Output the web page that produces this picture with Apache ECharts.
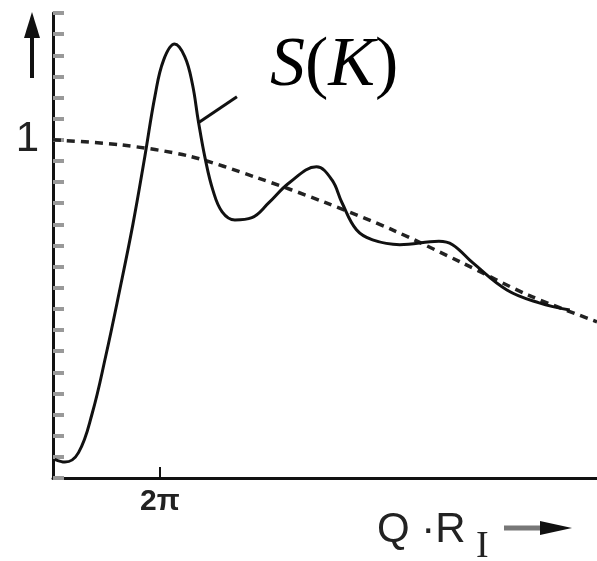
<!DOCTYPE html>
<html>
<head>
<meta charset="utf-8">
<script src="https://cdn.jsdelivr.net/npm/echarts@6/dist/echarts.min.js"></script>
<style>
  html, body { margin: 0; padding: 0; background: #fff; }
  #chart { width: 597px; height: 561px; }
</style>
</head>
<body>
<div id="chart"></div>
<script>
// S(K) curve, x = Q·R, y = S
const curveX = [0.1, 0.7, 1.5, 2.3, 3.1, 3.9, 4.7, 5.4, 6.0, 6.5, 7.15, 7.75, 8.2, 8.55, 8.95, 9.4, 9.95, 10.7, 11.7, 12.7, 13.9, 15.5, 16.4, 17.0, 17.85, 18.8, 20.4, 22.7, 23.5, 24.7, 26.7, 28.6, 30.4]
const curveY = [0.055, 0.047, 0.075, 0.19, 0.36, 0.55, 0.75, 0.95, 1.13, 1.235, 1.283, 1.246, 1.165, 1.055, 0.945, 0.852, 0.787, 0.763, 0.77, 0.814, 0.873, 0.92, 0.882, 0.814, 0.734, 0.704, 0.69, 0.7, 0.69, 0.636, 0.556, 0.518, 0.497]

// dashed reference line
const refX = [0, 4, 8, 12, 16, 20, 24, 28, 32]
const refY = [1.0, 0.985, 0.952, 0.888, 0.815, 0.733, 0.638, 0.54, 0.462]

const xTickValues = [2 * Math.PI]
const xTickLabels = ['2π']
const yLabelValue = 1

const chart = echarts.init(document.getElementById('chart'))

const option = {
  animation: false,
  backgroundColor: '#fff',
  grid: { left: 53, right: 0, top: 13, bottom: 83 },
  xAxis: {
    type: 'value',
    min: 0,
    max: 32,
    axisLine: { lineStyle: { color: '#111', width: 3 } },
    axisTick: {
      inside: true,
      length: 11,
      customValues: xTickValues,
      lineStyle: { color: '#111', width: 2 }
    },
    axisLabel: {
      customValues: xTickValues,
      formatter: v => xTickLabels[xTickValues.indexOf(v)] || '',
      margin: 9,
      fontFamily: 'Liberation Sans',
      fontWeight: 'bold',
      fontSize: 30,
      color: '#222'
    },
    splitLine: { show: false }
  },
  yAxis: {
    type: 'value',
    min: 0,
    max: 1.375,
    interval: 0.0625,
    axisLine: { show: true, lineStyle: { color: '#111', width: 3 } },
    axisTick: {
      show: true,
      inside: true,
      length: 11,
      lineStyle: { color: '#999', width: 4 }
    },
    axisLabel: {
      formatter: v => (Math.abs(v - yLabelValue) < 1e-9 ? '1' : ''),
      margin: 14,
      fontFamily: 'Liberation Sans',
      fontSize: 42,
      color: '#222'
    },
    splitLine: { show: false }
  },
  series: [
    {
      name: 'ref',
      type: 'line',
      data: refX.map((x, i) => [x, refY[i]]),
      smooth: 0.3,
      showSymbol: false,
      silent: true,
      lineStyle: { color: '#222', width: 3.5, type: [8, 6] }
    },
    {
      name: 'S(K)',
      type: 'line',
      data: curveX.map((x, i) => [x, curveY[i]]),
      smooth: 0.4,
      showSymbol: false,
      silent: true,
      lineStyle: { color: '#111', width: 3 },
      markLine: {
        silent: true,
        symbol: 'none',
        label: { show: false },
        lineStyle: { color: '#111', width: 3, type: 'solid' },
        data: [[{ coord: [8.53, 1.05] }, { coord: [10.82, 1.127] }]]
      }
    }
  ],
  graphic: [
    // up arrow next to the y axis
    { type: 'line', shape: { x1: 32, y1: 36, x2: 32, y2: 78 }, style: { stroke: '#111', lineWidth: 4 } },
    { type: 'polygon', shape: { points: [[24, 38], [32, 12], [40, 38]] }, style: { fill: '#111' } },
    // S(K) label
    {
      type: 'text',
      x: 270,
      y: 67,
      style: {
        text: '{i|S}{u|(}{i|K}{u|)}',
        textVerticalAlign: 'middle',
        rich: {
          i: { fontFamily: 'Liberation Serif', fontStyle: 'italic', fontSize: 70, fill: '#000' },
          u: { fontFamily: 'Liberation Serif', fontSize: 70, fill: '#000' }
        }
      }
    },
    // x axis name
    {
      type: 'text',
      x: 377,
      y: 530,
      style: {
        text: 'Q ·R',
        textVerticalAlign: 'middle',
        fontFamily: 'Liberation Sans',
        fontSize: 42,
        fill: '#222'
      }
    },
    {
      type: 'text',
      x: 476,
      y: 547,
      style: {
        text: 'I',
        textVerticalAlign: 'middle',
        fontFamily: 'Liberation Serif',
        fontSize: 38,
        fill: '#222'
      }
    },
    { type: 'line', shape: { x1: 504, y1: 528, x2: 545, y2: 528 }, style: { stroke: '#777', lineWidth: 5 } },
    { type: 'polygon', shape: { points: [[540, 521], [572, 528], [540, 535]] }, style: { fill: '#111' } }
  ]
}

chart.setOption(option)
</script>
</body>
</html>
